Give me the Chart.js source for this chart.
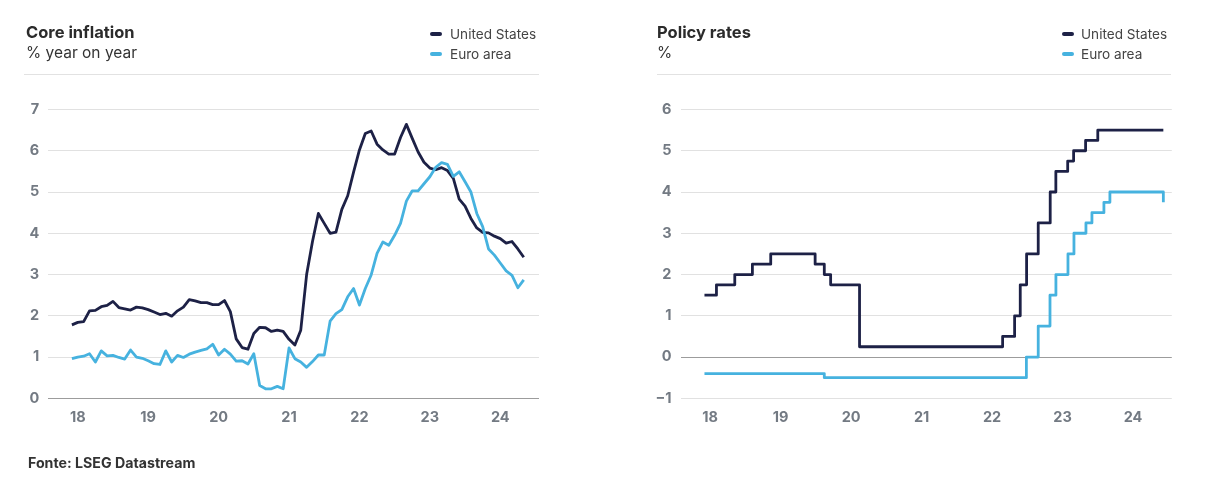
<!DOCTYPE html>
<html>
<head>
<meta charset="utf-8">
<script src="https://cdn.jsdelivr.net/npm/chart.js@4.4.1/dist/chart.umd.min.js"></script>
<style>
  body { margin: 0; background: #fff; font-family: Inter, "Open Sans", sans-serif; }
  #wrap { position: relative; width: 1217px; height: 492px; overflow: hidden; }
  canvas { position: absolute; top: 0; }
  .t { position: absolute; white-space: nowrap; }
  .title { font-size: 16.5px; font-weight: 700; color: #2b2b2b; line-height: 20px; }
  .sub { font-size: 15.5px; color: #333; line-height: 20px; }
  .leg { font-size: 13.6px; color: #444; line-height: 18px; }
  .sw { position: absolute; width: 12px; height: 4px; border-radius: 2px; }
  .sep { position: absolute; height: 1px; background: #e2e2e2; }
  .src { font-size: 14.2px; font-weight: 700; color: #333; line-height: 18px; }
</style>
</head>
<body>
<div id="wrap">
  <canvas id="cLeft" width="600" height="492" style="left:0"></canvas>
  <canvas id="cRight" width="597" height="492" style="left:620px"></canvas>

  <div class="t title" style="left:26px;top:22px">Core inflation</div>
  <div class="t sub" style="left:26px;top:43px">% year on year</div>
  <div class="sw" style="left:430px;top:32px;background:#1d2146"></div>
  <div class="t leg" style="left:450px;top:25px">United States</div>
  <div class="sw" style="left:430px;top:52px;background:#46b2df"></div>
  <div class="t leg" style="left:450px;top:45px">Euro area</div>
  <div class="sep" style="left:24px;top:74px;width:515px"></div>

  <div class="t title" style="left:657px;top:22px">Policy rates</div>
  <div class="t sub" style="left:657px;top:43px">%</div>
  <div class="sw" style="left:1062px;top:32px;background:#1d2146"></div>
  <div class="t leg" style="left:1081px;top:25px">United States</div>
  <div class="sw" style="left:1062px;top:52px;background:#46b2df"></div>
  <div class="t leg" style="left:1081px;top:45px">Euro area</div>
  <div class="sep" style="left:657px;top:74px;width:514px"></div>

  <div class="t src" style="left:28px;top:454px">Fonte: LSEG Datastream</div>
</div>
<script>
// core inflation, monthly, Dec 2017 - May 2024
var months = [
  '2017-12',
  '2018-01','2018-02','2018-03','2018-04','2018-05','2018-06','2018-07','2018-08','2018-09','2018-10','2018-11','2018-12',
  '2019-01','2019-02','2019-03','2019-04','2019-05','2019-06','2019-07','2019-08','2019-09','2019-10','2019-11','2019-12',
  '2020-01','2020-02','2020-03','2020-04','2020-05','2020-06','2020-07','2020-08','2020-09','2020-10','2020-11','2020-12',
  '2021-01','2021-02','2021-03','2021-04','2021-05','2021-06','2021-07','2021-08','2021-09','2021-10','2021-11','2021-12',
  '2022-01','2022-02','2022-03','2022-04','2022-05','2022-06','2022-07','2022-08','2022-09','2022-10','2022-11','2022-12',
  '2023-01','2023-02','2023-03','2023-04','2023-05','2023-06','2023-07','2023-08','2023-09','2023-10','2023-11','2023-12',
  '2024-01','2024-02','2024-03','2024-04','2024-05'
];
var usCore = [
  1.78,
  1.84,1.86,2.12,2.13,2.22,2.25,2.35,2.20,2.17,2.14,2.21,2.19,
  2.15,2.09,2.03,2.06,1.99,2.12,2.21,2.39,2.36,2.32,2.32,2.27,
  2.27,2.37,2.10,1.44,1.23,1.19,1.57,1.72,1.71,1.62,1.65,1.62,
  1.43,1.29,1.65,3.00,3.80,4.48,4.24,4.00,4.03,4.58,4.91,5.48,
  6.02,6.42,6.48,6.16,6.02,5.92,5.92,6.32,6.64,6.30,5.97,5.72,
  5.58,5.54,5.59,5.52,5.33,4.83,4.66,4.36,4.13,4.02,4.01,3.93,
  3.87,3.76,3.80,3.62,3.42
];
var euroCore = [
  0.96,
  1.00,1.02,1.08,0.88,1.15,1.03,1.04,0.99,0.95,1.17,1.00,0.97,
  0.91,0.84,0.82,1.15,0.88,1.04,0.99,1.07,1.12,1.16,1.20,1.31,
  1.05,1.19,1.07,0.90,0.91,0.83,1.08,0.31,0.23,0.23,0.29,0.23,
  1.22,0.96,0.88,0.75,0.89,1.05,1.05,1.87,2.05,2.15,2.46,2.66,
  2.26,2.66,2.99,3.51,3.79,3.71,3.95,4.24,4.78,5.03,5.03,5.20,
  5.37,5.60,5.71,5.67,5.38,5.49,5.25,5.00,4.48,4.16,3.62,3.47,
  3.28,3.09,2.98,2.68,2.87
];

// policy rates: dates of change (decimal years) and the new rate
var fedDates = [2017.92, 2018.09, 2018.35, 2018.60, 2018.86, 2019.49, 2019.62, 2019.71, 2020.12,
                2022.15, 2022.32, 2022.40, 2022.49, 2022.655, 2022.825, 2022.905, 2023.073, 2023.157, 2023.327, 2023.50, 2024.43];
var fedRates = [1.5, 1.75, 2.0, 2.25, 2.5, 2.25, 2.0, 1.75, 0.25,
                0.5, 1.0, 1.75, 2.5, 3.25, 4.0, 4.5, 4.75, 5.0, 5.25, 5.5, 5.5];
var ecbDates = [2017.92, 2019.62, 2022.487, 2022.655, 2022.822, 2022.906, 2023.077, 2023.162, 2023.332, 2023.417, 2023.587, 2023.672, 2024.43];
var ecbRates = [-0.4, -0.5, 0, 0.75, 1.5, 2.0, 2.5, 3.0, 3.25, 3.5, 3.75, 4.0, 3.75];

var yearTicks = [2018, 2019, 2020, 2021, 2022, 2023, 2024];
var leftTicks = [0, 1, 2, 3, 4, 5, 6, 7];
var rightTicks = [-1, 0, 1, 2, 3, 4, 5, 6];

var colUS = '#1d2146';
var colEU = '#46b2df';

function monthToYear(m) {
  var p = m.split('-');
  return parseInt(p[0]) + (parseInt(p[1]) - 1) / 12;
}
function pairs(xs, ys) {
  var out = [];
  for (var i in xs) out.push({x: xs[i], y: ys[i]});
  return out;
}

Chart.defaults.font.family = 'Inter, "Open Sans", sans-serif';
Chart.defaults.animation = false;

function makeOptions(yTicks, axisWidth, padRight) {
  return {
    responsive: false,
    animation: false,
    layout: { padding: { left: 0, right: padRight, top: 109.5, bottom: 53.7 } },
    plugins: { legend: { display: false }, tooltip: { enabled: false } },
    elements: { point: { radius: 0 }, line: { borderWidth: 2.8, tension: 0, borderJoinStyle: 'round' } },
    scales: {
      x: {
        type: 'linear',
        min: 2017.58,
        max: 2024.55,
        grid: { display: false, drawTicks: false },
        border: { display: false },
        afterBuildTicks: function (s) { s.ticks = yearTicks.map(function (v) { return {value: v}; }); },
        afterFit: function (s) { s.height = 40; },
        ticks: {
          padding: 11,
          color: '#737a83',
          font: { size: 14.5, weight: 'bold' },
          callback: function (v) { return String(v).slice(2); }
        }
      },
      y: {
        min: yTicks[0],
        max: yTicks[yTicks.length - 1],
        afterBuildTicks: function (s) { s.ticks = yTicks.map(function (v) { return {value: v}; }); },
        afterFit: function (s) { s.width = axisWidth; },
        grid: {
          drawTicks: false,
          color: function (c) { return c.tick && c.tick.value === 0 ? '#9c9c9c' : '#e1e1e1'; },
          lineWidth: 1
        },
        border: { display: false },
        ticks: {
          padding: 9,
          color: '#737a83',
          font: { size: 14.5, weight: 'bold' },
          callback: function (v) { return v < 0 ? '\u22121' : String(v); }
        }
      }
    }
  };
}

var xMonths = months.map(monthToYear);

new Chart(document.getElementById('cLeft'), {
  type: 'line',
  data: {
    datasets: [
      { label: 'Euro area', data: pairs(xMonths, euroCore), borderColor: colEU },
      { label: 'United States', data: pairs(xMonths, usCore), borderColor: colUS }
    ]
  },
  options: makeOptions(leftTicks, 48.2, 61)
});

new Chart(document.getElementById('cRight'), {
  type: 'line',
  data: {
    datasets: [
      { label: 'Euro area', data: pairs(ecbDates, ecbRates), borderColor: colEU, stepped: 'before' },
      { label: 'United States', data: pairs(fedDates, fedRates), borderColor: colUS, stepped: 'before' }
    ]
  },
  options: makeOptions(rightTicks, 60.5, 45.2)
});
</script>
</body>
</html>
